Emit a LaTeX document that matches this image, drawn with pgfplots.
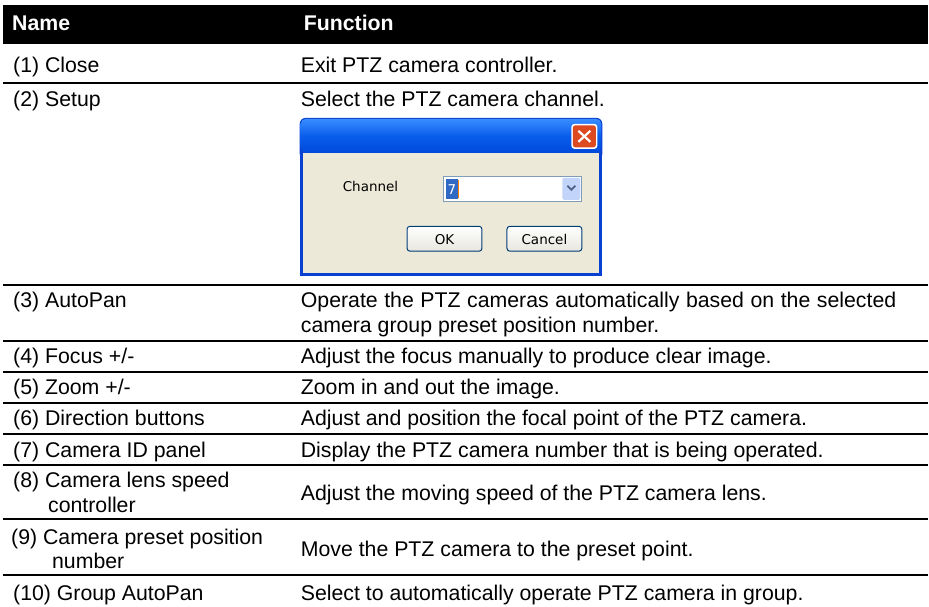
\documentclass[border=0pt]{standalone}
\usepackage{pgfplots}
\pgfplotsset{compat=1.18}
\usepackage{fontspec}
\setmainfont{Liberation Sans}
\newfontfamily\dlgfont{DejaVu Sans}
\definecolor{xpborder}{HTML}{0841D2}
\definecolor{xptop}{HTML}{3A8CFF}
\definecolor{xpmid}{HTML}{0A5DEB}
\definecolor{xpbot}{HTML}{0049DB}
\definecolor{xpbody}{HTML}{ECE9D8}
\definecolor{xpred}{HTML}{DD4A22}
\definecolor{xpcombo}{HTML}{7F9DB9}
\definecolor{xpsel}{HTML}{316AC5}
\definecolor{xpdrop}{HTML}{C3D4FA}
\definecolor{xparrow}{HTML}{4D6185}
\definecolor{xpbtn}{HTML}{003C74}
\begin{document}
\begin{tikzpicture}
\begin{axis}[
  x=1pt, y=1pt, y dir=reverse,
  xmin=0, xmax=929, ymin=0, ymax=607,
  hide axis, scale only axis, clip=false,
]
\path (axis cs:0,0) rectangle (axis cs:929,607);
% header bar
\fill[black] (axis cs:3,5) rectangle (axis cs:929,44);
% row separators
\addplot[black, line width=2pt, mark=none] coordinates {(3,83) (929,83)};
\addplot[black, line width=2pt, mark=none] coordinates {(3,285) (929,285)};
\addplot[black, line width=2pt, mark=none] coordinates {(3,341) (929,341)};
\addplot[black, line width=2pt, mark=none] coordinates {(3,372) (929,372)};
\addplot[black, line width=2pt, mark=none] coordinates {(3,403) (929,403)};
\addplot[black, line width=2pt, mark=none] coordinates {(3,434) (929,434)};
\addplot[black, line width=2pt, mark=none] coordinates {(3,465) (929,465)};
\addplot[black, line width=2pt, mark=none] coordinates {(3,520) (929,520)};
\addplot[black, line width=2pt, mark=none] coordinates {(3,576) (929,576)};

\tikzset{cell/.style={anchor=base west, inner sep=0pt, font=\fontsize{21.3}{25}\selectfont}}
% header
\node[cell, text=white, font=\fontsize{21.3}{25}\selectfont\bfseries] at (axis cs:12,31) {Name};
\node[cell, text=white, font=\fontsize{21.3}{25}\selectfont\bfseries] at (axis cs:304,31) {Function};
% column 1
\node[cell] at (axis cs:13,73) {(1) Close};
\node[cell] at (axis cs:13,107) {(2) Setup};
\node[cell] at (axis cs:13,308) {(3) AutoPan};
\node[cell] at (axis cs:13,364) {(4) Focus +/-};
\node[cell] at (axis cs:13,395) {(5) Zoom +/-};
\node[cell] at (axis cs:13,426) {(6) Direction buttons};
\node[cell] at (axis cs:13,458) {(7) Camera ID panel};
\node[cell] at (axis cs:13,488) {(8) Camera lens speed};
\node[cell] at (axis cs:48,513) {controller};
\node[cell] at (axis cs:11,545) {(9) Camera preset position};
\node[cell] at (axis cs:52,569) {number};
\node[cell] at (axis cs:13,601) {(10) Group AutoPan};
% column 2
\node[cell] at (axis cs:301,73) {Exit PTZ camera controller.};
\node[cell] at (axis cs:301,107) {Select the PTZ camera channel.};
\node[cell] at (axis cs:301,308) {\makebox[596pt][s]{Operate the PTZ cameras automatically based on the selected}};
\node[cell] at (axis cs:301,333) {camera group preset position number.};
\node[cell] at (axis cs:301,364) {Adjust the focus manually to produce clear image.};
\node[cell] at (axis cs:301,395) {Zoom in and out the image.};
\node[cell] at (axis cs:301,426) {Adjust and position the focal point of the PTZ camera.};
\node[cell] at (axis cs:301,458) {Display the PTZ camera number that is being operated.};
\node[cell] at (axis cs:301,501) {Adjust the moving speed of the PTZ camera lens.};
\node[cell] at (axis cs:301,557) {Move the PTZ camera to the preset point.};
\node[cell] at (axis cs:301,601) {Select to automatically operate PTZ camera in group.};

% dialog window
\fill[xpborder, rounded corners=6pt] (axis cs:300,118) rectangle (axis cs:603,160);
\fill[xpborder] (axis cs:300,140) rectangle (axis cs:603,276);
\shade[top color=xptop, bottom color=xpbot, middle color=xpmid, rounded corners=5pt]
  (axis cs:301,119) rectangle (axis cs:602,153);
\fill[xpbody] (axis cs:303,153) rectangle (axis cs:600,273);
% close button
\fill[white, rounded corners=3pt] (axis cs:572,124) rectangle (axis cs:598,149);
\fill[xpred, rounded corners=2.5pt] (axis cs:573.5,125.5) rectangle (axis cs:596.5,147.5);
\draw[white, line width=2.2pt] (axis cs:579,131) -- (axis cs:591,142);
\draw[white, line width=2.2pt] (axis cs:591,131) -- (axis cs:579,142);
% channel label
\node[anchor=base west, inner sep=0pt, font=\dlgfont\fontsize{13.5}{15}\selectfont] at (axis cs:343,192) {Channel};
% combo box
\fill[white] (axis cs:443,176) rectangle (axis cs:583,202);
\draw[xpcombo, line width=1pt] (axis cs:443.5,176.5) rectangle (axis cs:582.5,201.5);
\fill[xpsel] (axis cs:446,179) rectangle (axis cs:458,199);
\node[anchor=base west, inner sep=0pt, text=white, font=\dlgfont\fontsize{13.5}{15}\selectfont] at (axis cs:448,195) {7};
\draw[orange, line width=1pt] (axis cs:459,180) -- (axis cs:459,198);
\fill[xpdrop, rounded corners=1.5pt] (axis cs:563,178) rectangle (axis cs:581,200);
\draw[xparrow, line width=1.8pt] (axis cs:568,186) -- (axis cs:572,190) -- (axis cs:576,186);
% OK / Cancel buttons
\shade[top color=white, bottom color=xpbody!80!gray!60, rounded corners=3pt] (axis cs:407,226) rectangle (axis cs:483,252);
\draw[xpbtn, line width=1pt, rounded corners=3pt] (axis cs:407.5,226.5) rectangle (axis cs:482.5,251.5);
\node[inner sep=0pt, font=\dlgfont\fontsize{13.5}{15}\selectfont] at (axis cs:445,239.5) {OK};
\shade[top color=white, bottom color=xpbody!80!gray!60, rounded corners=3pt] (axis cs:507,226) rectangle (axis cs:583,252);
\draw[xpbtn, line width=1pt, rounded corners=3pt] (axis cs:507.5,226.5) rectangle (axis cs:582.5,251.5);
\node[inner sep=0pt, font=\dlgfont\fontsize{13.5}{15}\selectfont] at (axis cs:545,239.5) {Cancel};
\end{axis}
\end{tikzpicture}
\end{document}
